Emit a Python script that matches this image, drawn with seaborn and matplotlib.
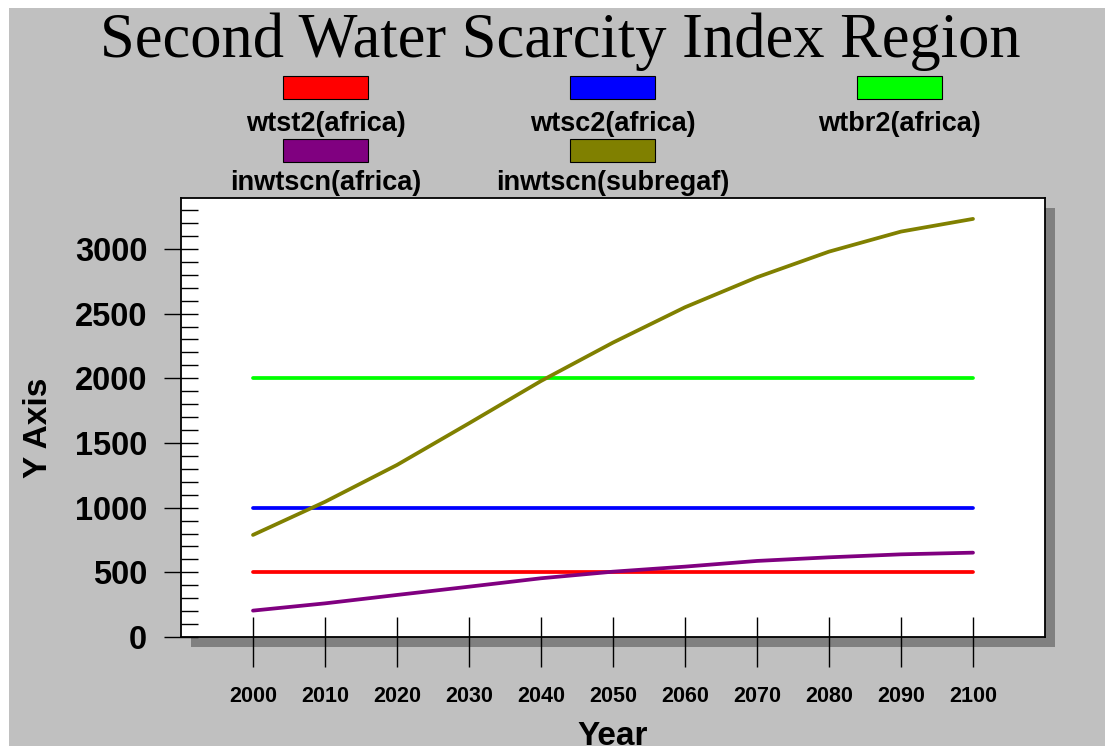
import numpy as np
import pandas as pd
import matplotlib
matplotlib.use("Agg")
import matplotlib.pyplot as plt
from matplotlib.patches import Rectangle
from matplotlib.ticker import MultipleLocator, FixedLocator
import seaborn as sns

# values
years = [2000, 2010, 2020, 2030, 2040, 2050, 2060, 2070, 2080, 2090, 2100]
wtst2_africa = [500, 500, 500, 500, 500, 500, 500, 500, 500, 500, 500]
wtsc2_africa = [1000, 1000, 1000, 1000, 1000, 1000, 1000, 1000, 1000, 1000, 1000]
wtbr2_africa = [2000, 2000, 2000, 2000, 2000, 2000, 2000, 2000, 2000, 2000, 2000]
inwtscn_africa = [204, 260, 325, 389, 454, 505, 544, 588, 616, 639, 652]
inwtscn_subregaf = [789, 1045, 1330, 1652, 1979, 2276, 2549, 2781, 2979, 3134, 3232]

series_names = ["wtst2(africa)", "wtsc2(africa)", "wtbr2(africa)",
                "inwtscn(africa)", "inwtscn(subregaf)"]
series_values = [wtst2_africa, wtsc2_africa, wtbr2_africa,
                 inwtscn_africa, inwtscn_subregaf]
series_colors = ["#ff0000", "#0000ff", "#00ff00", "#800080", "#808000"]

y_ticks = [0, 500, 1000, 1500, 2000, 2500, 3000]

df = pd.DataFrame({
    "year": np.tile(years, len(series_names)),
    "value": np.concatenate(series_values),
    "series": np.repeat(series_names, len(years)),
})

sns.set_style("ticks")
plt.rcParams["font.family"] = ["Liberation Sans", "DejaVu Sans"]
plt.rcParams.update({"text.color": "black", "axes.labelcolor": "black",
                     "xtick.color": "black", "ytick.color": "black",
                     "xtick.labelcolor": "black", "ytick.labelcolor": "black"})

W, H = 1105, 746
fig = plt.figure(figsize=(W / 100, H / 100), dpi=100, facecolor="white")

# gray page background and drop shadow behind the plot area
fig.patches.append(Rectangle((9 / W, 0), 1, 1 - 8 / H, transform=fig.transFigure,
                             facecolor="#c0c0c0", edgecolor="none", zorder=-2))
fig.patches.append(Rectangle((191 / W, 1 - 647 / H), 864 / W, 439 / H,
                             transform=fig.transFigure, facecolor="#808080",
                             edgecolor="none", zorder=-1))

ax = fig.add_axes([181 / W, 1 - 637 / H, 864 / W, 439 / H])
ax.set_facecolor("white")

sns.lineplot(data=df, x="year", y="value", hue="series", hue_order=series_names,
             palette=dict(zip(series_names, series_colors)), linewidth=2.7,
             legend=False, ax=ax, solid_capstyle="round")

ax.set_xlim(1990, 2110)
ax.set_ylim(0, max(inwtscn_subregaf) * 1.05)

ax.set_xticks(years)
ax.xaxis.remove_overlapping_locs = False
ax.xaxis.set_minor_locator(FixedLocator(years))
ax.set_yticks(y_ticks)
ax.yaxis.set_minor_locator(MultipleLocator(100))

ax.tick_params(axis="x", which="major", direction="out", length=21.6, width=1,
               labelsize=15.5, pad=14)
ax.tick_params(axis="x", which="minor", direction="in", length=14.4, width=1)
ax.tick_params(axis="y", which="major", direction="inout", length=24.5, width=1,
               labelsize=23.5, pad=12)
ax.tick_params(axis="y", which="minor", direction="in", length=12.2, width=1)
for lab in ax.get_xticklabels() + ax.get_yticklabels():
    lab.set_fontweight("bold")

for sp in ax.spines.values():
    sp.set_color("black")
    sp.set_linewidth(1.3)

ax.set_xlabel("Year", fontsize=24, fontweight="bold", labelpad=10)
ax.set_ylabel("Y Axis", fontsize=24, fontweight="bold")
ax.yaxis.set_label_coords(-0.147, 0.476)

fig.text(560 / W, 1 - 57 / H, "Second Water Scarcity Index Region",
         family=["Liberation Serif", "DejaVu Serif"], fontsize=45,
         ha="center", va="baseline")

# hand-drawn legend: swatch with the name centred underneath
legend_cols = [325.5, 612.5, 899.5]
legend_rows = [(76, 131), (139, 190)]
for i, (name, color) in enumerate(zip(series_names, series_colors)):
    cx = legend_cols[i % 3]
    top, base = legend_rows[i // 3]
    fig.patches.append(Rectangle(((cx - 42.5) / W, 1 - (top + 23) / H), 85 / W, 23 / H,
                                 transform=fig.transFigure, facecolor=color,
                                 edgecolor="black", linewidth=0.8, zorder=1))
    fig.text(cx / W, 1 - base / H, name, fontsize=19.5, fontweight="bold",
             ha="center", va="baseline")

fig.savefig("out.png", dpi=100)
